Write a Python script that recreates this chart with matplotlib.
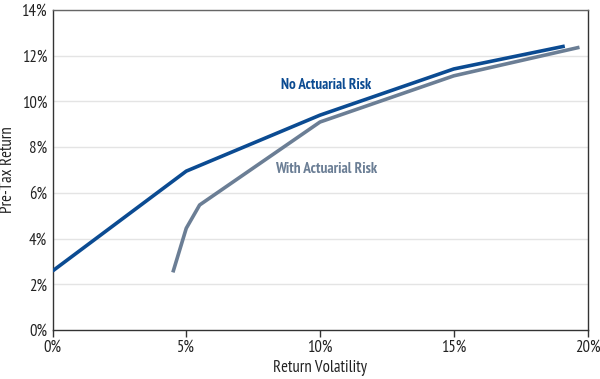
import matplotlib
matplotlib.use("Agg")
import matplotlib.pyplot as plt
from matplotlib.ticker import FuncFormatter

plt.rcParams['font.family'] = ['PT Sans Narrow', 'DejaVu Sans']

no_risk_x = [0.0, 5.0, 10.0, 15.0, 19.15]
no_risk_y = [2.58, 6.95, 9.4, 11.42, 12.42]
with_risk_x = [4.5, 5.0, 5.5, 10.0, 15.0, 19.7]
with_risk_y = [2.52, 4.45, 5.47, 9.1, 11.12, 12.37]

x_ticks = [0, 5, 10, 15, 20]
y_ticks = [0, 2, 4, 6, 8, 10, 12, 14]

blue = '#0b4b92'
grey = '#6b7e95'

fig = plt.figure(figsize=(6, 3.79), dpi=100)
ax = fig.add_axes([0.0875, 0.1293, 0.8917, 0.8443])

for y in y_ticks[1:]:
    ax.axhline(y, color='#e4e4e4', lw=1.0, zorder=0)

ax.plot(no_risk_x, no_risk_y, color=blue, lw=2.6, solid_capstyle='butt', zorder=3)
ax.plot(with_risk_x, with_risk_y, color=grey, lw=2.6, solid_capstyle='butt', zorder=2)

ax.text(10.22, 10.72, 'No Actuarial Risk', color=blue, fontsize=10.8, fontweight='bold', ha='center', va='center')
ax.text(10.22, 7.04, 'With Actuarial Risk', color=grey, fontsize=11, fontweight='bold', ha='center', va='center')

ax.set_xlim(0, 20)
ax.set_ylim(0, 14)
ax.set_xticks(x_ticks)
ax.set_yticks(y_ticks)
ax.xaxis.set_major_formatter(FuncFormatter(lambda v, p: f'{v:.0f}%'))
ax.yaxis.set_major_formatter(FuncFormatter(lambda v, p: f'{v:.0f}%'))
ax.tick_params(axis='x', length=5, width=1, color='#333333', labelsize=12, labelcolor='#222222', pad=2)
ax.tick_params(axis='y', length=0, labelsize=12, labelcolor='#222222', pad=4)
for s in ['left', 'bottom', 'right', 'top']:
    ax.spines[s].set_color('#333333')
    ax.spines[s].set_linewidth(1.0)
ax.spines['top'].set_color('#666666')

ax.set_xlabel('Return Volatility', fontsize=12, color='#222222', labelpad=3)
ax.set_ylabel('Pre-Tax Return', fontsize=12, color='#222222', labelpad=4)

fig.savefig('out.png', dpi=100)
